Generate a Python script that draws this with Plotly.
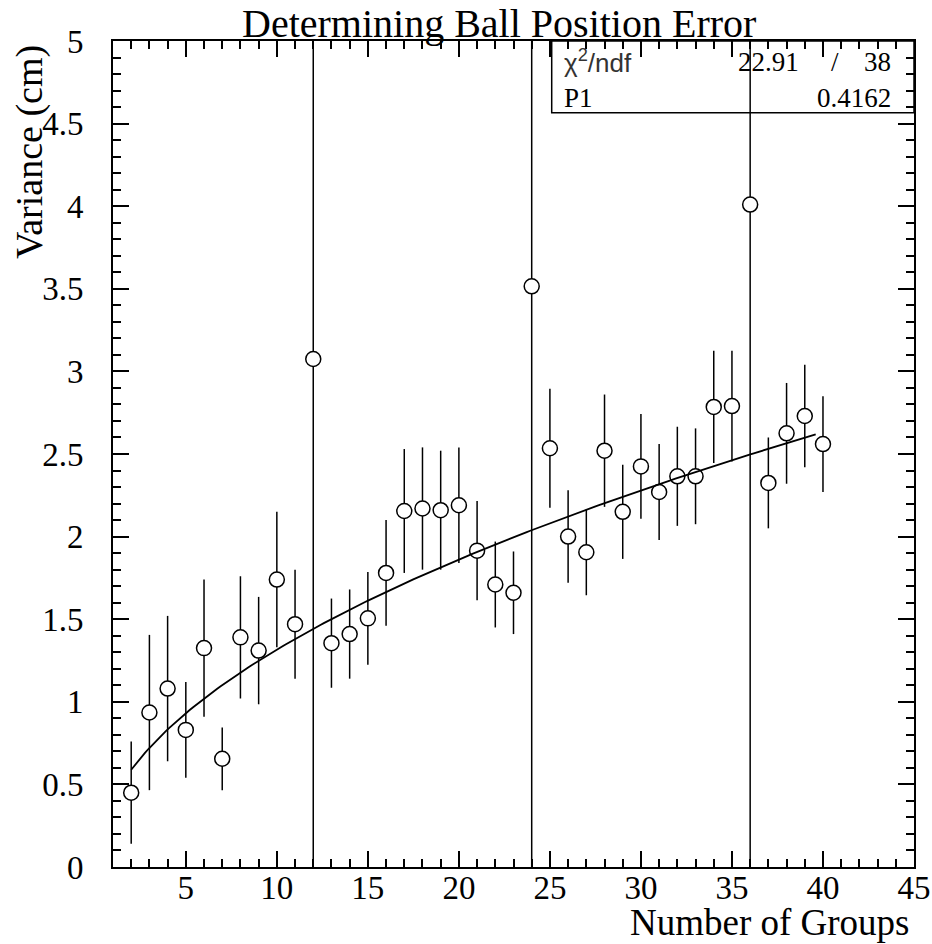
import numpy as np
import plotly.graph_objects as go

# ---- data ----
groups = list(range(2, 41))
variance = [0.45, 0.935, 1.08, 0.83, 1.325, 0.655, 1.39, 1.31, 1.74, 1.47,
            3.075, 1.355, 1.41, 1.505, 1.78, 2.155, 2.17, 2.16, 2.19, 1.915,
            1.71, 1.66, 3.515, 2.535, 2.0, 1.905, 2.52, 2.15, 2.425, 2.27,
            2.365, 2.365, 2.785, 2.79, 4.01, 2.325, 2.625, 2.73, 2.56]
errors = [0.31, 0.47, 0.44, 0.29, 0.415, 0.19, 0.37, 0.325, 0.41, 0.33,
          20.0, 0.27, 0.27, 0.28, 0.32, 0.375, 0.37, 0.36, 0.35, 0.30,
          0.26, 0.25, 20.0, 0.36, 0.28, 0.26, 0.34, 0.285, 0.317, 0.29,
          0.30, 0.29, 0.34, 0.335, 20.0, 0.275, 0.305, 0.31, 0.29]

# fit result: y = P1 * sqrt(x)
P1 = 0.4162
chi2 = "22.91"
ndf = "38"
fit_start, fit_end = 2.0, 39.6

title_text = "Determining Ball Position Error"
xtitle = "Number of Groups"
ytitle = "Variance (cm)"

SERIF = "Liberation Serif"

fit_x = np.linspace(fit_start, fit_end, 200)
fit_y = P1 * np.sqrt(fit_x)

fig = go.Figure()
fig.add_trace(go.Scatter(
    x=groups, y=variance, mode="markers",
    marker=dict(symbol="circle", size=15, color="white",
                line=dict(color="black", width=1.5)),
    error_y=dict(type="data", array=errors, symmetric=True,
                 color="black", thickness=1.5, width=0),
    showlegend=False,
))
fig.add_trace(go.Scatter(
    x=fit_x, y=fit_y, mode="lines",
    line=dict(color="black", width=1.8),
    showlegend=False,
))

axis_common = dict(
    showgrid=False, zeroline=False, showline=True, linecolor="black",
    linewidth=2, mirror="allticks", ticks="inside", tickcolor="black",
    tickwidth=1.5, ticklen=16, automargin=False,
    tickfont=dict(family=SERIF, size=33, color="black"),
)

fig.update_xaxes(range=[1, 45], tick0=0, dtick=5,
                 minor=dict(dtick=1, ticks="inside", ticklen=8,
                            tickcolor="black", tickwidth=1.5, showgrid=False),
                 ticklabelstandoff=-10,
                 **axis_common)
fig.update_yaxes(range=[0, 5], tick0=0, dtick=0.5,
                 minor=dict(dtick=0.1, ticks="inside", ticklen=8,
                            tickcolor="black", tickwidth=1.5, showgrid=False),
                 ticklabelstandoff=21,
                 **axis_common)

annotations = [
    dict(text=title_text, xref="paper", yref="paper", x=0.4825, y=1.0,
         xanchor="center", yanchor="bottom", yshift=-7, showarrow=False,
         font=dict(family=SERIF, size=40, color="black")),
    dict(text=ytitle, xref="paper", yref="paper", x=-0.1036, y=0.9976,
         xanchor="center", yanchor="top", textangle=-90, showarrow=False,
         font=dict(family=SERIF, size=38, color="black")),
    dict(text=xtitle, xref="paper", yref="paper", x=0.9975, y=-0.0675,
         xanchor="right", yanchor="middle", showarrow=False,
         font=dict(family=SERIF, size=37, color="black")),
    dict(text="χ<sup>2</sup>/ndf", xref="paper", yref="paper", x=0.5602, y=0.975,
         xanchor="left", yanchor="middle", showarrow=False,
         font=dict(family="Liberation Sans", size=26, color="#333")),
    dict(text=chi2, xref="paper", yref="paper", x=0.8589, y=0.975,
         xanchor="right", yanchor="middle", showarrow=False,
         font=dict(family=SERIF, size=27, color="black")),
    dict(text="/", xref="paper", yref="paper", x=0.9014, y=0.975,
         xanchor="center", yanchor="middle", showarrow=False,
         font=dict(family=SERIF, size=27, color="black")),
    dict(text=ndf, xref="paper", yref="paper", x=0.9738, y=0.975,
         xanchor="right", yanchor="middle", showarrow=False,
         font=dict(family=SERIF, size=27, color="black")),
    dict(text="P1", xref="paper", yref="paper", x=0.5602, y=0.931,
         xanchor="left", yanchor="middle", showarrow=False,
         font=dict(family=SERIF, size=27, color="black")),
    dict(text=f"{P1:.4f}", xref="paper", yref="paper", x=0.9738, y=0.931,
         xanchor="right", yanchor="middle", showarrow=False,
         font=dict(family=SERIF, size=27, color="black")),
]

fig.update_layout(
    width=932, height=944,
    margin=dict(l=113, r=18, t=41, b=77, pad=0),
    paper_bgcolor="white", plot_bgcolor="white",
    annotations=annotations,
    shapes=[dict(type="rect", xref="paper", yref="paper",
                 x0=0.5477, x1=1.0, y0=0.9132, y1=1.0,
                 line=dict(color="black", width=1.5), fillcolor="rgba(0,0,0,0)")],
)

fig.write_html("out.html")
